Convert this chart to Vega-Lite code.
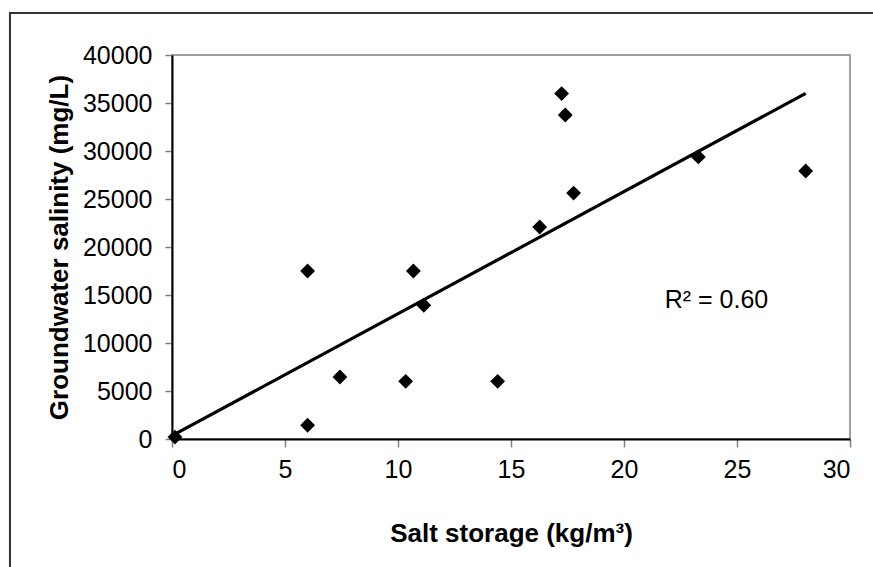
{
  "$schema": "https://vega.github.io/schema/vega-lite/v6.json",
  "autosize": {"type": "none"},
  "width": 678,
  "height": 384,
  "padding": {"left": 172, "top": 55, "right": 23, "bottom": 128},
  "background": "white",
  "config": {
    "view": {"stroke": "#808080", "strokeWidth": 1.5},
    "font": "Liberation Sans"
  },
  "layer": [
    {
      "data": {"values": [
        {"x": 0.13, "y": 200},
        {"x": 6.0, "y": 1430},
        {"x": 6.0, "y": 17500},
        {"x": 7.43, "y": 6460},
        {"x": 10.34, "y": 6010},
        {"x": 10.68, "y": 17500},
        {"x": 11.14, "y": 13930},
        {"x": 14.41, "y": 6010},
        {"x": 16.27, "y": 22080},
        {"x": 17.24, "y": 35980},
        {"x": 17.4, "y": 33750},
        {"x": 17.77, "y": 25620},
        {"x": 23.29, "y": 29380},
        {"x": 28.04, "y": 27920}
      ]},
      "mark": {"type": "point", "shape": "diamond", "filled": true, "color": "black", "opacity": 1, "size": 220},
      "encoding": {
        "x": {"field": "x", "type": "quantitative",
          "scale": {"domain": [0, 30], "nice": false, "zero": false},
          "axis": {"title": "Salt storage (kg/m³)", "values": [0, 5, 10, 15, 20, 25, 30], "grid": false,
            "domainColor": "black", "domainWidth": 2, "tickColor": "#808080", "tickWidth": 1.5, "tickSize": 8,
            "labelFont": "Liberation Sans", "labelFontSize": 25, "labelColor": "black", "labelPadding": 10,
            "titleFont": "Liberation Sans", "titleFontSize": 26, "titleFontWeight": "bold", "titleColor": "black", "titlePadding": 38}},
        "y": {"field": "y", "type": "quantitative",
          "scale": {"domain": [0, 40000], "nice": false, "zero": false},
          "axis": {"title": "Groundwater salinity (mg/L)", "values": [0, 5000, 10000, 15000, 20000, 25000, 30000, 35000, 40000], "format": "d", "grid": false,
            "domainColor": "black", "domainWidth": 2, "tickColor": "#808080", "tickWidth": 1.5, "tickSize": 7,
            "labelFont": "Liberation Sans", "labelFontSize": 25, "labelColor": "black", "labelPadding": 13,
            "titleFont": "Liberation Sans", "titleFontSize": 26, "titleFontWeight": "bold", "titleColor": "black", "titlePadding": 10}}
      }
    },
    {
      "data": {"values": [
        {"x": 0.13, "y": 500},
        {"x": 28.04, "y": 36000}
      ]},
      "mark": {"type": "line", "color": "black", "strokeWidth": 3.2},
      "encoding": {
        "x": {"field": "x", "type": "quantitative", "scale": {"domain": [0, 30], "nice": false, "zero": false}},
        "y": {"field": "y", "type": "quantitative", "scale": {"domain": [0, 40000], "nice": false, "zero": false}}
      }
    },
    {
      "data": {"values": [{"label": "R² = 0.60", "x": 21.8, "y": 13600}]},
      "mark": {"type": "text", "align": "left", "baseline": "alphabetic", "font": "Liberation Sans", "fontSize": 25, "color": "black"},
      "encoding": {
        "x": {"field": "x", "type": "quantitative", "scale": {"domain": [0, 30], "nice": false, "zero": false}},
        "y": {"field": "y", "type": "quantitative", "scale": {"domain": [0, 40000], "nice": false, "zero": false}},
        "text": {"field": "label"}
      }
    },
    {
      "data": {"values": [{"x": -7.17, "y": 44375, "x2": 40, "y2": -20000}]},
      "mark": {"type": "rect", "fill": null, "fillOpacity": 0, "stroke": "#333333", "strokeWidth": 2, "clip": false},
      "encoding": {
        "x": {"field": "x", "type": "quantitative", "scale": {"domain": [0, 30], "nice": false, "zero": false}},
        "x2": {"field": "x2"},
        "y": {"field": "y", "type": "quantitative", "scale": {"domain": [0, 40000], "nice": false, "zero": false}},
        "y2": {"field": "y2"}
      }
    }
  ]
}
